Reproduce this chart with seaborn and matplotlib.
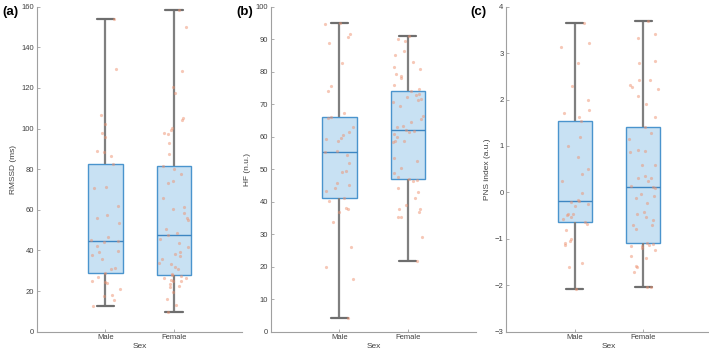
import numpy as np
import pandas as pd
import seaborn as sns
import matplotlib.pyplot as plt

groups = ["Male", "Female"]

rmssd_male = [12.7, 15.6, 17.7, 18.0, 21.0, 24.1, 24.5, 24.9, 26.9, 28.8,
              31.0, 31.2, 35.6, 37.9, 39.4, 39.9, 42.2, 44.0, 44.8,
              45.1, 46.8, 53.7, 55.8, 57.4, 62.0, 70.9, 71.4, 82.5,
              86.5, 88.4, 89.0, 95.7, 98.0, 102.0, 106.7, 129.3, 154.0]
rmssd_female = [9.7, 13.1, 16.2, 19.7, 21.8, 22.5, 23.3, 24.8, 24.9, 25.4, 26.3, 26.6, 27.4, 27.7,
                28.2, 31.0, 32.0, 33.1, 33.6, 35.6, 37.3, 38.1, 39.1, 41.7, 43.5, 45.5, 47.5,
                48.4, 50.4, 54.8, 56.1, 58.6, 60.4, 61.2, 65.6, 73.4, 74.0, 77.6, 79.9, 81.5,
                87.6, 92.7, 97.1, 97.6, 99.4, 100.4, 104.0, 105.3, 117.5, 120.4, 128.2, 150.1, 158.6]

hf_male = [4.3, 16.2, 20.0, 26.2, 33.6, 36.7, 37.6, 38.1, 40.2, 41.0,
           43.2, 44.1, 45.0, 45.6, 49.0, 49.3, 51.9, 54.3, 55.2,
           55.6, 58.6, 59.2, 59.7, 60.4, 61.5, 63.1, 65.6, 66.1,
           67.4, 74.1, 75.6, 82.8, 88.7, 90.6, 91.6, 94.8, 95.1]
hf_female = [21.8, 29.1, 35.4, 35.4, 36.8, 37.6, 37.8, 38.9, 41.2, 43.0, 44.1, 46.5, 46.6, 47.1,
             47.5, 48.9, 50.3, 52.5, 53.4, 58.3, 58.6, 58.6, 60.0, 60.7, 61.4, 61.9, 62.1,
             63.1, 63.3, 64.4, 65.5, 66.5, 69.4, 70.6, 71.3, 71.5, 72.3, 72.7, 73.0, 74.1,
             74.6, 75.9, 78.2, 78.8, 79.3, 80.8, 81.5, 83.0, 85.0, 86.3, 89.5, 90.2, 90.9]

pns_male = [-2.07, -1.61, -1.52, -1.13, -1.08, -1.05, -1.00, -0.80, -0.68, -0.64,
            -0.57, -0.53, -0.49, -0.47, -0.47, -0.30, -0.25, -0.21, -0.19,
            -0.17, -0.01, 0.25, 0.40, 0.50, 0.77, 1.00, 1.19, 1.54,
            1.62, 1.72, 1.77, 1.98, 2.30, 2.79, 3.14, 3.21, 3.64]
pns_female = [-2.04, -2.03, -1.72, -1.61, -1.58, -1.42, -1.36, -1.24, -1.20, -1.16, -1.16, -1.13, -1.12, -1.09,
              -0.79, -0.71, -0.70, -0.60, -0.54, -0.46, -0.43, -0.22, -0.13, -0.08, -0.04, 0.10, 0.11,
              0.14, 0.24, 0.32, 0.32, 0.36, 0.58, 0.58, 0.88, 0.89, 0.91, 1.16, 1.29, 1.41,
              1.62, 1.90, 2.08, 2.22, 2.28, 2.31, 2.43, 2.43, 2.78, 2.82, 3.33, 3.42, 3.70]

panels = [
    ("(a)", "RMSSD (ms)", rmssd_male, rmssd_female, (0, 160), np.arange(0, 161, 20)),
    ("(b)", "HF (n.u.)", hf_male, hf_female, (0, 100), np.arange(0, 101, 10)),
    ("(c)", "PNS index (a.u.)", pns_male, pns_female, (-3, 4), np.arange(-3, 5, 1)),
]

sns.set_style("ticks")
plt.rcParams["font.family"] = ["Liberation Sans", "DejaVu Sans"]
np.random.seed(7)

txt = "#404040"
axc = "#a0a0a0"

fig = plt.figure(figsize=(7.09, 3.51), dpi=100)
lefts = [0.052, 0.382, 0.714]
label_x = [0.003, 0.333, 0.663]

for i, (tag, ylab, male, female, ylim, yticks) in enumerate(panels):
    ax = fig.add_axes([lefts[i], 0.055, 0.29, 0.926])
    df = pd.DataFrame({"Sex": ["Male"] * len(male) + ["Female"] * len(female),
                       "value": male + female})
    sns.boxplot(data=df, x="Sex", y="value", order=groups, width=0.5,
                whis=(0, 100), showfliers=False, saturation=1,
                color="#c8e1f3", linecolor="#4a94cd", linewidth=1.0, ax=ax,
                medianprops=dict(color="#3d86c2", linewidth=1.0),
                whiskerprops=dict(color="#7f7f7f", linewidth=1.6),
                capprops=dict(color="#6e6e6e", linewidth=1.6))
    sns.stripplot(data=df, x="Sex", y="value", order=groups, jitter=0.22,
                  size=2.3, color="#ee9270", alpha=0.5, linewidth=0,
                  ax=ax, zorder=3)
    ax.set_xlim(-1, 2)
    ax.set_ylim(*ylim)
    ax.set_yticks(yticks)
    sns.despine(ax=ax)
    for s in ["left", "bottom"]:
        ax.spines[s].set_color(axc)
        ax.spines[s].set_linewidth(0.8)
    ax.tick_params(direction="in", length=2.5, width=0.6, color=axc,
                   labelcolor=txt, labelsize=5.5, pad=2)
    ax.set_xlabel("Sex", fontsize=6, color=txt, labelpad=1)
    ax.set_ylabel(ylab, fontsize=6, color=txt, labelpad=3)
    fig.text(label_x[i], 0.966, tag, fontsize=9.5, fontweight="bold",
             va="center", ha="left", color="black")

fig.savefig("out.png", dpi=100)
